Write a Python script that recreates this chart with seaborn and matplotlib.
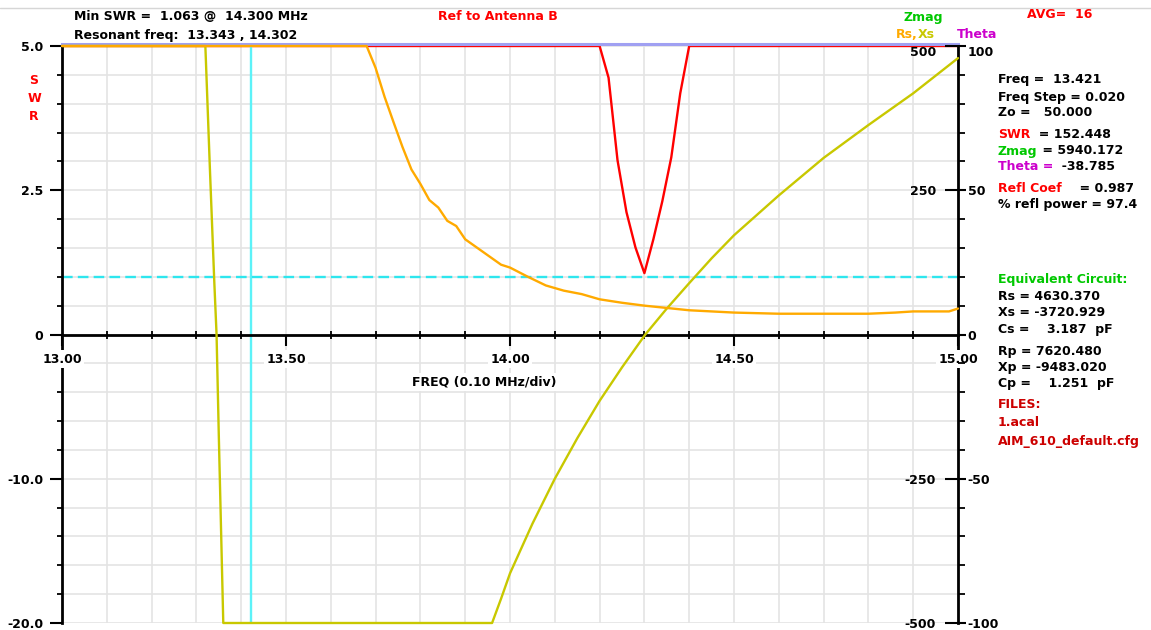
import numpy as np
import pandas as pd
import matplotlib
matplotlib.use('Agg')
import matplotlib.pyplot as plt
from matplotlib.lines import Line2D
from matplotlib.ticker import MultipleLocator
import seaborn as sns

# ---- values ----
# SWR trace (screen clips at 5.0)
swr_freq = [13.00, 14.20, 14.22, 14.24, 14.26, 14.28, 14.30, 14.32, 14.34, 14.36, 14.38, 14.40, 15.00]
swr_val = [5.0, 5.0, 4.45, 3.02, 2.12, 1.51, 1.063, 1.65, 2.31, 3.07, 4.18, 5.0, 5.0]

# Rs trace (ohms, clipped at 500)
rs_freq = [13.00, 13.68, 13.70, 13.72, 13.74, 13.76, 13.78, 13.80, 13.82, 13.84, 13.86, 13.88,
           13.90, 13.92, 13.94, 13.96, 13.98, 14.00, 14.04, 14.08, 14.12, 14.16, 14.20, 14.25,
           14.30, 14.40, 14.50, 14.60, 14.70, 14.80, 14.86, 14.90, 14.98, 15.00]
rs_val = [500, 500, 462, 412, 368, 325, 286, 261, 233, 220, 197, 188,
          165, 154, 143, 132, 121, 116, 100, 85, 76, 70, 61, 55,
          50, 42, 38, 36, 36, 36, 38, 40, 40, 45]

# Xs trace (ohms, clipped at +/-500)
xs_freq = [13.00, 13.32, 13.33, 13.34, 13.345, 13.35, 13.36, 13.96, 13.98, 14.00, 14.05, 14.10,
           14.15, 14.20, 14.25, 14.302, 14.35, 14.40, 14.45, 14.50, 14.60, 14.70, 14.80, 14.90, 15.00]
xs_val = [500, 500, 290, 90, 0, -175, -500, -500, -458, -414, -328, -250,
          -180, -115, -57, 0, 45, 89, 132, 172, 241, 306, 363, 418, 479]

cursor_freq = 13.421
swr_ref = 1.0

# axis ticks / labels
freq_ticks = [13.0, 13.5, 14.0, 14.5, 15.0]
freq_labels = ['13.00', '13.50', '14.00', '14.50', '15.00']
swr_ticks = [5.0, 2.5, 0.0, -2.5, -5.0]
swr_labels = ['5.0', '2.5', '0', '-10.0', '-20.0']
rsxs_ticks = [500, 250, -250, -500]
rsxs_labels = ['500', '250', '-250', '-500']
theta_ticks = [100, 50, 0, -50, -100]
theta_labels = ['100', '50', '0', '-50', '-100']

# readout panel
readout_lines = [
    (80, [('Freq =  13.421', 'black')]),
    (97, [('Freq Step = 0.020', 'black')]),
    (113, [('Zo =   50.000', 'black')]),
    (134, [('SWR', '#ff0000'), ('  = 152.448', 'black')]),
    (151, [('Zmag', '#00c800'), (' = 5940.172', 'black')]),
    (167, [('Theta =', '#cc00cc'), ('  -38.785', 'black')]),
    (188, [('Refl Coef', '#ff0000'), ('    = 0.987', 'black')]),
    (205, [('% refl power = 97.4', 'black')]),
    (280, [('Equivalent Circuit:', '#00c800')]),
    (297, [('Rs = 4630.370', 'black')]),
    (313, [('Xs = -3720.929', 'black')]),
    (329, [('Cs =    3.187  pF', 'black')]),
    (352, [('Rp = 7620.480', 'black')]),
    (368, [('Xp = -9483.020', 'black')]),
    (383, [('Cp =    1.251  pF', 'black')]),
    (404, [('FILES:', '#cc0000')]),
    (422, [('1.acal', '#cc0000')]),
    (441, [('AIM_610_default.cfg', '#cc0000')]),
]

sns.set_theme(style='white')
plt.rcParams['font.family'] = ['DejaVu Sans']
plt.rcParams['font.weight'] = 'bold'
plt.rcParams['font.size'] = 9

W, H = 1151, 630
fig = plt.figure(figsize=(W / 100, H / 100), dpi=100)
fig.patch.set_facecolor('white')


def fx(px):
    return px / W


def fy(py):
    return 1 - py / H


rect = [fx(62), fy(623), 896 / W, 577 / H]

# grid layer underneath everything
axg = fig.add_axes(rect)
axg.set_xlim(13, 15)
axg.set_ylim(-5, 5)
axg.xaxis.set_major_locator(MultipleLocator(0.1))
axg.yaxis.set_major_locator(MultipleLocator(0.5))
axg.grid(True, color='#e4e4e4', linewidth=1.2)
axg.tick_params(length=0, labelbottom=False, labelleft=False)
for s in axg.spines.values():
    s.set_visible(False)

# SWR axes
ax = fig.add_axes(rect)
ax.patch.set_visible(False)
sns.lineplot(x=swr_freq, y=swr_val, ax=ax, color='#ff0000', linewidth=1.7, clip_on=False)
ax.axvline(cursor_freq, color='#5cf2f8', linewidth=1.7)
ax.axhline(swr_ref, color='#2ee6ee', linewidth=1.7, dashes=(4.5, 2.2))
ax.set_xlim(13, 15)
ax.set_ylim(-5, 5)

ax.spines['bottom'].set_position(('data', 0))
for side in ['left', 'bottom', 'right']:
    ax.spines[side].set_color('black')
    ax.spines[side].set_linewidth(2)
ax.spines['top'].set_color('#a0a0f2')
ax.spines['top'].set_linewidth(2.2)
ax.spines['top'].set_position(('outward', 1.5))

ax.set_xticks(freq_ticks, freq_labels)
ax.xaxis.set_minor_locator(MultipleLocator(0.1))
ax.tick_params(axis='x', which='major', bottom=True, direction='out', length=8,
               width=1.5, color='black', pad=5, labelsize=9, labelcolor='black')
ax.tick_params(axis='x', which='minor', bottom=True, direction='inout', length=6,
               width=1.3, color='black')
for t in ax.get_xticklabels():
    t.set_bbox(dict(facecolor='white', edgecolor='none', pad=1.5))
    t.set_fontweight('bold')

ax.set_yticks(swr_ticks, swr_labels)
ax.yaxis.set_minor_locator(MultipleLocator(0.5))
ax.tick_params(axis='y', which='major', left=True, direction='out', length=8.5,
               width=1.5, color='black', pad=5, labelsize=9, labelcolor='black')
ax.tick_params(axis='y', which='minor', left=True, direction='out', length=3.5,
               width=1.3, color='black')
for t in ax.get_yticklabels():
    t.set_fontweight('bold')
ax.xaxis.set_zorder(2.6)

ax.set_xlabel('FREQ (0.10 MHz/div)', fontsize=9, fontweight='bold', color='black',
              bbox=dict(facecolor='white', edgecolor='none', pad=1.5))
ax.xaxis.set_label_coords((484 - 62) / 896, 1 - (382 - 46) / 577)
ax.xaxis.label.set_va('center')
ax.set_ylabel('')

# Rs / Xs axes
ax2 = ax.twinx()
sns.lineplot(x=xs_freq, y=xs_val, ax=ax2, color='#c8c800', linewidth=1.7, clip_on=False)
sns.lineplot(x=rs_freq, y=rs_val, ax=ax2, color='#ffaa00', linewidth=1.7, clip_on=False)
ax2.set_xlim(13, 15)
ax2.set_ylim(-500, 500)
for s in ax2.spines.values():
    s.set_visible(False)
ax2.set_yticks(rsxs_ticks, rsxs_labels)
ax2.tick_params(axis='y', which='major', right=True, left=False, direction='in', length=9.5,
                width=1.5, color='black', pad=-16, labelsize=9, labelcolor='black')
for t in ax2.get_yticklabels():
    t.set_ha('right')
    t.set_fontweight('bold')
ax2.get_yticklabels()[0].set_va('top')
ax2.set_ylabel('')

# Theta axes
ax3 = ax.twinx()
ax3.set_ylim(-100, 100)
for s in ax3.spines.values():
    s.set_visible(False)
ax3.set_yticks(theta_ticks, theta_labels)
ax3.yaxis.set_minor_locator(MultipleLocator(10))
ax3.tick_params(axis='y', which='major', right=True, direction='out', length=5.5,
                width=1.5, color='black', pad=1.5, labelsize=9, labelcolor='black')
ax3.tick_params(axis='y', which='minor', right=True, direction='out', length=5,
                width=1.3, color='black')
for t in ax3.get_yticklabels():
    t.set_fontweight('bold')
ax3.get_yticklabels()[0].set_va('top')

# header texts
txt = dict(fontsize=9, fontweight='bold', va='center', ha='left')
fig.add_artist(Line2D([0, 1], [fy(8), fy(8)], transform=fig.transFigure, color='#d6d6d6', lw=1))
fig.text(fx(74), fy(17), 'Min SWR =  1.063 @  14.300 MHz', color='black', **txt)
fig.text(fx(74), fy(35), 'Resonant freq:  13.343 , 14.302', color='black', **txt)
fig.text(fx(438), fy(17), 'Ref to Antenna B', color='#ff0000', **txt)
fig.text(fx(903), fy(17), 'Zmag', color='#00c800', **txt)
fig.text(fx(1027), fy(15), 'AVG=  16', color='#ff0000', **txt)
t = fig.text(fx(896), fy(35), 'Rs,', color='#ffaa00', **txt)
ax3.annotate('Xs', xy=(1, 0), xycoords=t, va='bottom', ha='left', color='#c8c800',
             fontsize=9, fontweight='bold')
fig.text(fx(957), fy(35), 'Theta', color='#cc00cc', **txt)

for ypix, letter in zip([80, 98, 117], ['S', 'W', 'R']):
    fig.text(fx(34), fy(ypix), letter, color='#ff0000', fontsize=9, fontweight='bold',
             va='center', ha='center')

# readout panel
for ypix, parts in readout_lines:
    t = fig.text(fx(998), fy(ypix), parts[0][0], color=parts[0][1], **txt)
    for s, c in parts[1:]:
        t = ax3.annotate(s, xy=(1, 0), xycoords=t, va='bottom', ha='left', color=c,
                         fontsize=9, fontweight='bold')

fig.savefig('out.png', dpi=100)
